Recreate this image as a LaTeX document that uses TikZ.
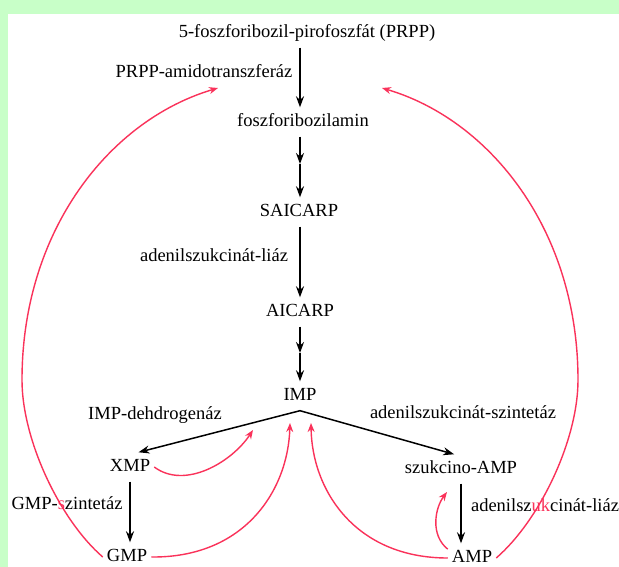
\documentclass[tikz,border=0pt]{standalone}
\usepackage{fontspec}
\setmainfont{Liberation Serif}
\usetikzlibrary{arrows.meta}
\definecolor{hatter}{RGB}{200,255,200}
\definecolor{piros}{RGB}{250,50,90}
\tikzset{
  utvonal/.style={
    x=1pt, y=-1pt,
    font=\fontsize{18.5}{22}\selectfont,
    every node/.style={inner xsep=4pt, inner ysep=6pt, text height=13pt, text depth=4pt}
  },
  lepes/.style={draw, line width=1.5pt, -{Stealth[length=11pt,width=8pt]}},
  visszahat/.style={draw=piros, line width=1.4pt, -{Stealth[length=9pt,width=7pt]}}
}
\begin{document}
\begin{tikzpicture}[utvonal]
\fill[hatter] (0,0) rectangle (619,567);
\fill[white] (8,14) rectangle (619,567);
\useasboundingbox (0,0) rectangle (619,567);
\node (prpp) at (307,33) {5-foszforibozil-pirofoszfát (PRPP)};
\node (fra) at (303,122) {foszforibozilamin};
\node (saicarp) at (299,212) {SAICARP};
\node (aicarp) at (300,312) {AICARP};
\node (imp) at (300,396) {IMP};
\node (xmp) at (130,467) {XMP};
\node (szamp) at (461,469) {szukcino-AMP};
\node (gmp) at (127,557) {GMP};
\node (amp) at (472,558) {AMP};
\node (e1) at (204,73) {PRPP-amidotranszferáz};
\node (e2) at (214,257) {adenilszukcinát-liáz};
\node (e3) at (155,415) {IMP-dehdrogenáz};
\node (e4) at (463,414) {adenilszukcinát-szintetáz};
\node (e5) at (67,505) {GMP-\textcolor{piros}{s}zintetáz};
\node (e6) at (545,507) {adenilsz\textcolor{piros}{uk}cinát-liáz};
\coordinate (m1) at (300,164);
\coordinate (m2) at (300,353);
\coordinate (c1) at (218,88);
\coordinate (c2) at (382,88);
\coordinate (c3) at (253,430);
\coordinate (c4) at (290,423);
\coordinate (c5) at (311,423);
\coordinate (c6) at (447,492);
\draw[lepes] (prpp.south -| imp) -- (fra.north -| imp);
\draw[lepes] (fra.south -| imp) -- (m1);
\draw[lepes] (m1) -- (saicarp.north -| imp);
\draw[lepes] (saicarp.south -| imp) -- (aicarp.north -| imp);
\draw[lepes] (aicarp.south -| imp) -- (m2);
\draw[lepes] (m2) -- (imp.north);
\draw[lepes] (imp.south) -- (xmp.60);
\draw[lepes] (imp.south) -- (szamp.115);
\draw[lepes] (xmp.south) -- (xmp.south |- gmp.north);
\draw[lepes] (szamp.south) -- (szamp.south |- amp.north);
\draw[visszahat] (gmp.west) .. controls (60,520) and (22,440) .. (22,380) .. controls (22,230) and (110,120) .. (c1);
\draw[visszahat] (amp.east) .. controls (540,520) and (578,440) .. (578,380) .. controls (578,230) and (490,120) .. (c2);
\draw[visszahat] (xmp.east) .. controls (185,490) and (232,462) .. (c3);
\draw[visszahat] (gmp.east) .. controls (245,558) and (288,490) .. (c4);
\draw[visszahat] (amp.west) .. controls (355,558) and (312,490) .. (c5);
\draw[visszahat] (amp.160) .. controls (430,535) and (435,508) .. (c6);
\end{tikzpicture}
\end{document}
